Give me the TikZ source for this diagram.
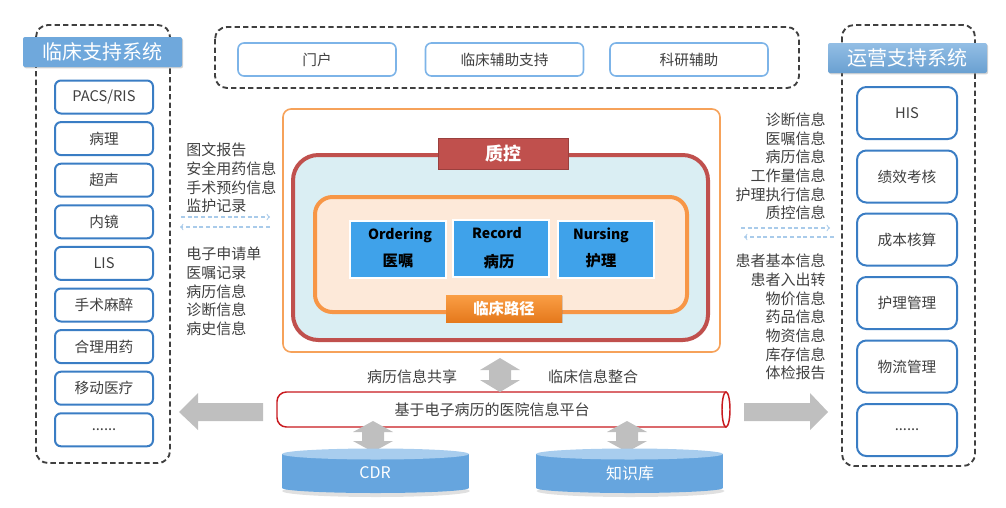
\documentclass[tikz,border=0pt]{standalone}
\usepackage{fontspec}
\setmainfont{Noto Sans CJK SC}
\usepackage{tikz}
\usetikzlibrary{shadows}
\usetikzlibrary{arrows}

\definecolor{framegray}{HTML}{404040}
\definecolor{txtgray}{HTML}{404040}
\definecolor{boxblue}{HTML}{3A7DC4}
\definecolor{topblue}{HTML}{7DB4E8}
\definecolor{titleblue}{HTML}{6FA8DC}
\definecolor{qcred}{HTML}{C0504D}
\definecolor{lightcyan}{HTML}{DAEEF3}
\definecolor{pathorange}{HTML}{F79646}
\definecolor{pathtop}{HTML}{FA9E45}
\definecolor{pathbot}{HTML}{E5791C}
\definecolor{peach}{HTML}{FDE9D9}
\definecolor{outerorange}{HTML}{F6A25A}
\definecolor{azure}{HTML}{3FA2EA}
\definecolor{arrowgray}{HTML}{BFBFBF}
\definecolor{dashblue}{HTML}{A9CBEA}
\definecolor{tubered}{HTML}{C8191E}
\definecolor{cylblue}{HTML}{66A5DE}
\definecolor{cyltop}{HTML}{A8CDEE}

\begin{document}
\begin{tikzpicture}[x=0.75pt,y=-0.75pt,
  frame/.style={draw=framegray, line width=1.4pt, dash pattern=on 4pt off 2.4pt, rounded corners=9pt},
  sidebox/.style={draw=boxblue, line width=1.5pt, rounded corners=4.5pt, fill=white, text=txtgray,
    font=\fontsize{11}{12}\selectfont, minimum width=73.5pt, minimum height=24.75pt},
  opsbox/.style={sidebox, rounded corners=7pt, minimum width=75pt, minimum height=39pt},
  topbox/.style={draw=topblue, line width=1.2pt, rounded corners=4.5pt, fill=white, text=txtgray,
    font=\fontsize{11}{12}\selectfont, minimum width=118.5pt, minimum height=24.75pt},
  titlebar/.style={fill=titleblue, text=white, font=\fontsize{15}{16}\selectfont,
    minimum width=119.25pt, minimum height=22.5pt, rounded corners=1.5pt,
    drop shadow={opacity=0.35, shadow xshift=0.8pt, shadow yshift=-1pt}},
  infotext/.style={inner sep=0pt, text=txtgray, font=\fontsize{11.25}{14}\selectfont},
  infoarrow/.style={draw=dashblue, line width=0.8pt, dash pattern=on 3pt off 2pt, -to},
  corebox/.style={fill=azure, draw=white, line width=1.5pt, minimum width=72pt, minimum height=42.75pt,
    drop shadow={opacity=0.3, shadow xshift=1pt, shadow yshift=-1pt}},
  coretext/.style={inner sep=0pt, text=black, font=\bfseries\fontsize{10.5}{12}\selectfont},
  arrowshape/.style={fill=arrowgray},
  cyllabel/.style={text=white, font=\fontsize{12}{13}\selectfont}
  ]

\useasboundingbox (0,0) rectangle (1006,507);

%% dashed frames
\draw[frame] (36,25) rectangle (170,463);
\draw[frame] (842,25) rectangle (975,466);
\draw[frame] (215,27) rectangle (799,88);

%% top row
\node[topbox] (portal) at (317,59.5) {门户};
\node[topbox] (clinaid) at (504.5,59.5) {临床辅助支持};
\node[topbox] (research) at (689,59.5) {科研辅助};

%% left column
\node[titlebar] (lefttitle) at (102.5,52) {临床支持系统};
\node[sidebox] (pacs) at (104,97) {PACS/RIS};
\node[sidebox] (patho) at (104,138.6) {病理};
\node[sidebox] (ultra) at (104,180.2) {超声};
\node[sidebox] (endo) at (104,221.8) {内镜};
\node[sidebox] (lis) at (104,263.4) {LIS};
\node[sidebox] (anes) at (104,305) {手术麻醉};
\node[sidebox] (drug) at (104,346.6) {合理用药};
\node[sidebox] (mobile) at (104,388.2) {移动医疗};
\node[sidebox] (lmore) at (104,429.8) {......};

%% right column
\node[titlebar, fill=none, top color=titleblue!75!white, bottom color=titleblue!95!black] (righttitle) at (907.5,58) {运营支持系统};
\node[opsbox] (his) at (907,113) {HIS};
\node[opsbox] (perf) at (907,176.5) {绩效考核};
\node[opsbox] (cost) at (907,239.5) {成本核算};
\node[opsbox] (nursemgmt) at (907,303) {护理管理};
\node[opsbox] (logistic) at (907,366.5) {物流管理};
\node[opsbox] (rmore) at (907,430) {......};

%% info lists
\node[infotext, anchor=west, align=left] (linfoa) at (186,178) {图文报告\\安全用药信息\\手术预约信息\\监护记录};
\node[infotext, anchor=west, align=left] (linfob) at (186,291.5) {电子申请单\\医嘱记录\\病历信息\\诊断信息\\病史信息};
\node[infotext, anchor=east, align=right] (rinfoa) at (826,166.5) {诊断信息\\医嘱信息\\病历信息\\工作量信息\\护理执行信息\\质控信息};
\node[infotext, anchor=east, align=right] (rinfob) at (826,317) {患者基本信息\\患者入出转\\物价信息\\药品信息\\物资信息\\库存信息\\体检报告};

\coordinate (lxa) at (181,217);
\coordinate (lxb) at (270,217);
\coordinate (lya) at (270,227);
\coordinate (lyb) at (180,227);
\draw[infoarrow] (lxa) -- (lxb);
\draw[infoarrow] (lya) -- (lyb);
\coordinate (rxa) at (741,228);
\coordinate (rxb) at (830,228);
\coordinate (rya) at (834,237);
\coordinate (ryb) at (744,237);
\draw[infoarrow] (rxa) -- (rxb);
\draw[infoarrow] (rya) -- (ryb);

%% core
\draw[outerorange, line width=1.2pt, fill=white, rounded corners=6pt] (283,109) rectangle (720,352);
\draw[qcred, line width=3pt, fill=lightcyan, rounded corners=19pt] (293,155) rectangle (708,340);
\draw[pathorange, line width=3pt, fill=peach, rounded corners=13pt] (315,197) rectangle (687,312);

\node[fill=qcred, draw=qcred!80!black, line width=0.6pt, text=white, font=\bfseries\fontsize{13.5}{14}\selectfont,
  minimum width=97.5pt, minimum height=23.25pt,
  drop shadow={opacity=0.3, shadow xshift=0.8pt, shadow yshift=-1pt}] (qc) at (503,153.5) {质控};
\node[top color=pathtop, bottom color=pathbot, text=white, font=\bfseries\fontsize{11.5}{12}\selectfont,
  minimum width=87pt, minimum height=20.25pt,
  drop shadow={opacity=0.3, shadow xshift=0.8pt, shadow yshift=-1pt}] (pathway) at (504,308.5) {临床路径};

\node[corebox] (ordering) at (398,249.5) {};
\node[corebox] (record) at (501,248) {};
\node[corebox] (nursing) at (606,249.5) {};
\node[coretext] (ordtop) at (400,235) {Ordering};
\node[coretext, font=\bfseries\fontsize{11.5}{12}\selectfont] (ordbot) at (398,261) {医嘱};
\node[coretext] (rectop) at (497,233) {Record};
\node[coretext, font=\bfseries\fontsize{11.5}{12}\selectfont] (recbot) at (499,262) {病历};
\node[coretext] (nurtop) at (601,235) {Nursing};
\node[coretext, font=\bfseries\fontsize{11.5}{12}\selectfont] (nurbot) at (601,261) {护理};

%% platform tube
\draw[tubered, line width=1.1pt, fill=white, rounded corners=7pt] (726,392) -- (277,392) -- (277,427) -- (726,427);
\draw[tubered, line width=1.1pt, fill=white] (726,409.5) ellipse [x radius=4, y radius=17.5];
\node[infotext] (platform) at (492,410) {基于电子病历的医院信息平台};

\node[infotext] (share) at (412,377) {病历信息共享};
\node[infotext] (integ) at (593,377) {临床信息整合};

%% big gray arrows
\fill[arrowshape] (179,412) -- (198,393) -- (198,403) -- (263,403) -- (263,421) -- (198,421) -- (198,430) -- cycle;
\fill[arrowshape] (828,412) -- (810,393) -- (810,403) -- (744,403) -- (744,421) -- (810,421) -- (810,430) -- cycle;

\fill[arrowshape] (500,358) -- ++(20,12) -- ++(-9,0) -- ++(0,10) -- ++(9,0) -- ++(-20,12) -- ++(-20,-12) -- ++(9,0) -- ++(0,-10) -- ++(-9,0) -- cycle;
\fill[arrowshape] (373,421) -- ++(20,11) -- ++(-9,0) -- ++(0,9) -- ++(9,0) -- ++(-20,11) -- ++(-20,-11) -- ++(9,0) -- ++(0,-9) -- ++(-9,0) -- cycle;
\fill[arrowshape] (627,421) -- ++(20,11) -- ++(-9,0) -- ++(0,9) -- ++(9,0) -- ++(-20,11) -- ++(-20,-11) -- ++(9,0) -- ++(0,-9) -- ++(-9,0) -- cycle;

%% databases
\fill[black, opacity=0.12] (376,491) ellipse [x radius=94, y radius=6];
\fill[cylblue] (282,454) rectangle (469,488);
\fill[cylblue] (375.5,488) ellipse [x radius=93.5, y radius=5];
\fill[cyltop] (375.5,454) ellipse [x radius=93.5, y radius=5.5];
\node[cyllabel] (cdr) at (375,473) {CDR};

\fill[black, opacity=0.12] (630.5,491) ellipse [x radius=94, y radius=6];
\fill[cylblue] (536,454) rectangle (723,488);
\fill[cylblue] (629.5,488) ellipse [x radius=93.5, y radius=5];
\fill[cyltop] (629.5,454) ellipse [x radius=93.5, y radius=5.5];
\node[cyllabel] (kb) at (630,473) {知识库};

\end{tikzpicture}
\end{document}
